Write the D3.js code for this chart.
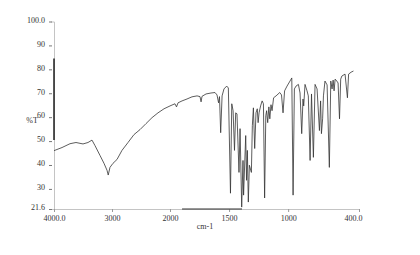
<!DOCTYPE html>
<html>
<head>
<meta charset="utf-8">
<script src="https://cdn.jsdelivr.net/npm/d3@7"></script>
<style>
  body { margin: 0; background: #fff; }
  .axis text { font-family: "Liberation Serif", "DejaVu Serif", serif; font-size: 8px; fill: #333; }
  .axisText { font-family: "Liberation Serif", "DejaVu Serif", serif; font-size: 8px; fill: #333; }
</style>
</head>
<body>
<div class="chart"></div>
<script>
var svgWidth = 420;
var svgHeight = 255;

// spectrum: wavenumber (cm-1) and %T
var wavenumber = [
  4000, 3862, 3724, 3621, 3500, 3414, 3345, 3293, 3207, 3138, 3086, 3065, 3035, 2983, 2914,
  2828, 2724, 2621, 2517, 2414, 2310, 2207, 2103, 2000, 1958, 1945, 1932, 1898, 1856, 1814,
  1771, 1746, 1737, 1729, 1695, 1653, 1619, 1602, 1589, 1581, 1571, 1559, 1543, 1520, 1506,
  1488, 1477, 1466, 1454, 1444, 1433, 1416, 1407, 1393, 1382, 1377, 1359, 1352, 1345, 1337,
  1328, 1311, 1303, 1294, 1283, 1272, 1261, 1254, 1246, 1233, 1220, 1209, 1199, 1189, 1182,
  1173, 1163, 1155, 1145, 1136, 1123, 1102, 1071, 1056, 1043, 1030, 1009, 984, 969, 958,
  947, 933, 913, 899, 885, 874, 868, 857, 840, 829, 814, 802, 786, 772, 755,
  735, 725, 718, 708, 701, 688, 670, 651, 639, 628, 619, 611, 602, 588, 577,
  565, 555, 545, 518, 498, 488, 467, 447
];
var transmittance = [
  46.0, 47.3, 48.9, 49.4, 48.8, 49.4, 50.4, 48.1, 44.0, 40.7, 37.8, 35.8, 39.0, 40.7, 42.3,
  46.1, 49.4, 52.7, 54.8, 57.3, 59.8, 61.8, 63.5, 64.7, 65.6, 64.3, 66.0, 66.8, 67.6, 68.5,
  68.9, 68.6, 66.4, 68.7, 69.7, 70.1, 70.3, 69.3, 66.0, 68.6, 53.5, 68.9, 71.8, 73.0, 72.2,
  28.2, 65.6, 62.7, 46.1, 61.8, 61.4, 36.9, 55.2, 22.4, 41.9, 27.4, 52.3, 33.6, 46.1, 24.5,
  39.9, 36.9, 56.4, 63.9, 46.9, 61.8, 63.5, 57.7, 61.8, 64.7, 66.8, 65.6, 26.2, 60.6, 62.7,
  57.7, 64.3, 59.3, 65.2, 62.7, 68.1, 68.9, 70.3, 69.3, 61.8, 71.0, 73.0, 75.1, 76.4, 27.4,
  71.8, 73.0, 73.7, 70.1, 53.1, 67.6, 64.7, 73.7, 71.0, 68.9, 41.9, 69.7, 43.2, 73.7, 71.8,
  54.4, 66.8, 53.1, 59.3, 68.9, 75.1, 73.5, 39.0, 75.1, 71.8, 75.5, 71.0, 75.9, 75.1, 74.3,
  59.3, 75.9, 77.2, 78.0, 68.1, 78.0, 78.8, 79.3
];

var yTickValues = [100, 90, 80, 70, 60, 50, 40, 30, 21.6];
var yTickLabels = ["100.0", "90", "80", "70", "60", "50", "40", "30", "21.6"];
var xTickValues = [4000, 3000, 2000, 1500, 1000, 400];
var xTickLabels = ["4000.0", "3000", "2000", "1500", "1000", "400.0"];

var svg = d3.select(".chart")
  .append("svg")
  .attr("width", svgWidth)
  .attr("height", svgHeight);

// split axis: 4000-2000 compressed, 2000-400 expanded
var xScale = d3.scaleLinear().domain([4000, 2000, 400]).range([54, 170, 359]);
var yScale = d3.scaleLinear().domain([21.6, 100]).range([209, 21.5]);

var leftAxis = d3.axisLeft(yScale)
  .tickValues(yTickValues)
  .tickFormat(function(d, i) { return yTickLabels[i]; })
  .tickSizeOuter(0)
  .tickSize(3)
  .tickPadding(6);

var bottomAxis = d3.axisBottom(xScale)
  .tickValues(xTickValues)
  .tickFormat(function(d, i) { return xTickLabels[i]; })
  .tickSizeOuter(0)
  .tickSize(3)
  .tickPadding(3);

var gy = svg.append("g")
  .attr("class", "axis")
  .attr("transform", "translate(" + xScale(4000) + ",0)")
  .call(leftAxis);
gy.select(".domain").attr("stroke", "#c4c4c4");
gy.selectAll(".tick line").attr("x1", -5).attr("x2", -2).attr("stroke", "#777");
gy.selectAll(".tick text").attr("dy", "0.1em");

var gx = svg.append("g")
  .attr("class", "axis")
  .attr("transform", "translate(0," + yScale(21.6) + ")")
  .call(bottomAxis);
gx.select(".domain").attr("stroke", "#c4c4c4");
gx.selectAll(".tick line").attr("stroke", "#999");
// last label sits a little left of its tick in the scan
gx.selectAll(".tick text").filter(function(d) { return d === 400; }).attr("dx", -6);

// darker pieces of the scanned axis lines
svg.append("line")
  .attr("x1", xScale(4000)).attr("x2", xScale(4000))
  .attr("y1", yScale(84.5)).attr("y2", yScale(50.5))
  .attr("stroke", "#111").attr("stroke-width", 1.4);
svg.append("line")
  .attr("x1", xScale(1898)).attr("x2", xScale(1390))
  .attr("y1", yScale(21.6)).attr("y2", yScale(21.6))
  .attr("stroke", "#333").attr("stroke-width", 1.2);

var line = d3.line()
  .x(function(d, i) { return xScale(wavenumber[i]); })
  .y(function(d) { return yScale(d); });

svg.append("path")
  .datum(transmittance)
  .attr("d", line)
  .attr("fill", "none")
  .attr("stroke", "#333")
  .attr("stroke-width", 0.8);

svg.append("text")
  .attr("class", "axisText")
  .attr("x", 32).attr("y", 123)
  .attr("text-anchor", "middle")
  .text("%T");

svg.append("text")
  .attr("class", "axisText")
  .attr("x", 205).attr("y", 229)
  .attr("text-anchor", "middle")
  .text("cm-1");
</script>
</body>
</html>
